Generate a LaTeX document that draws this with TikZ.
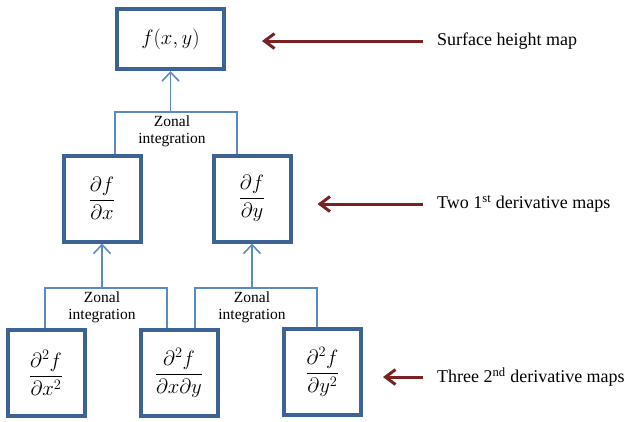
\documentclass[tikz,border=0pt]{standalone}
\usepackage{fontspec}
\setmainfont{Liberation Serif}
\usetikzlibrary{arrows.meta}
\definecolor{boxblue}{HTML}{3D6396}
\definecolor{linkblue}{HTML}{5B8BC7}
\definecolor{darkred}{HTML}{7A2222}
\tikzset{
  mapbox/.style={draw=boxblue, line width=4pt, inner sep=0pt,
    minimum width=77pt, minimum height=86pt, font=\fontsize{21}{25}\selectfont},
  link/.style={draw=linkblue, line width=1.6pt},
  uparrow/.style={link, -{Straight Barb[length=9pt,width=17pt]}},
  zonal/.style={anchor=north, inner sep=0pt, yshift=-4pt, align=center,
    font=\fontsize{15.5}{17}\selectfont},
  pointer/.style={draw=darkred, line width=3pt, -{Straight Barb[length=10pt,width=15pt]}},
  caption/.style={anchor=west, inner sep=0pt, font=\fontsize{18}{21}\selectfont}
}
\begin{document}
\begin{tikzpicture}[x=1pt,y=-1pt]
        \useasboundingbox (0,0) rectangle (627,421);
        % the maps
        \node[mapbox, minimum width=107pt, minimum height=60pt] (fxy) at (170.5,39) {$f(x,y)$};
        \node[mapbox] (fx) at (102,198.5) {$\displaystyle\frac{\partial f}{\partial x}$};
        \node[mapbox] (fy) at (252,198.5) {$\displaystyle\frac{\partial f}{\partial y}$};
        \node[mapbox] (fxx) at (46,373) {$\displaystyle\frac{\partial^2 f}{\partial x^2}$};
        \node[mapbox] (fxy2) at (179,373) {$\displaystyle\frac{\partial^2 f}{\partial x\partial y}$};
        \node[mapbox] (fyy) at (322.5,372) {$\displaystyle\frac{\partial^2 f}{\partial y^2}$};

        % tops of the brackets
        \coordinate (zi1) at (172,112);
        \coordinate (zi2) at (102,288);
        \coordinate (zi3) at (252,288);
        \node[zonal] (zl1) at (zi1) {Zonal\\integration};
        \node[zonal] (zl2) at (zi2) {Zonal\\integration};
        \node[zonal] (zl3) at (zi3) {Zonal\\integration};

        % brackets
        \draw[link] ([xshift=13pt]fx.north) |- (zi1) -| ([xshift=-15pt]fy.north);
        \draw[link] ([xshift=-1pt]fxx.north) |- (zi2) -| ([xshift=-12pt]fxy2.north);
        \draw[link] ([xshift=16pt]fxy2.north) |- (zi3) -| ([xshift=-5.5pt]fyy.north);
        \draw[uparrow] (fxy.south |- zi1) -- (fxy.south);
        \draw[uparrow] (zi2) -- (fx.south);
        \draw[uparrow] (zi3) -- (fy.south);

        % captions
        \node[caption] (surf) at (437,41) {Surface height map};
        \node[caption] (first) at (437,204) {Two 1\textsuperscript{st} derivative maps};
        \node[caption] (second) at (437,377) {Three 2\textsuperscript{nd} derivative maps};
        \draw[pointer, shorten <=14pt, shorten >=36pt] (surf.west) -- (surf.west -| fxy.east);
        \draw[pointer, shorten <=14pt, shorten >=25pt] (first.west) -- (first.west -| fy.east);
        \draw[pointer, shorten <=14pt, shorten >=20pt] (second.west) -- (second.west -| fyy.east);
    \end{tikzpicture}
\end{document}
